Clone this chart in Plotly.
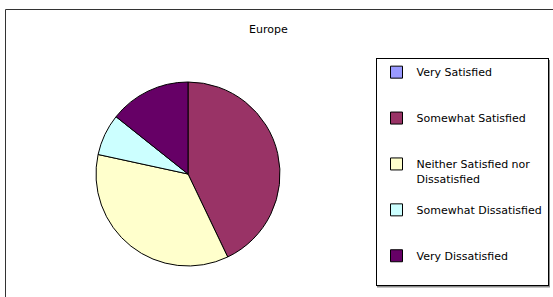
import plotly.graph_objects as go

categories = ["Very Satisfied", "Somewhat Satisfied", "Neither Satisfied nor Dissatisfied",
              "Somewhat Dissatisfied", "Very Dissatisfied"]
values = [0, 42.9, 35.5, 7.3, 14.3]
colors = ["#9999FF", "#993366", "#FFFFCC", "#CCFFFF", "#660066"]
title_text = "Europe"

W, H = 553, 297


def px(x):
    return x / W


def py(y):
    return 1 - y / H


def legend_label(name, last):
    # wrap long label as in the original legend, pad lines for even spacing
    if name == "Neither Satisfied nor Dissatisfied":
        lines = ["Neither Satisfied nor", "Dissatisfied"]
    else:
        lines = [name]
    n = 2 if last else 3
    while len(lines) < n:
        lines.append(" ")
    return "<br>".join(lines)


labels = [legend_label(c, i == len(categories) - 1) for i, c in enumerate(categories)]

fig = go.Figure(go.Pie(
    labels=labels,
    values=values,
    sort=False,
    direction="clockwise",
    rotation=0,
    marker=dict(colors=colors, line=dict(color="#000000", width=1)),
    textinfo="none",
    hovertext=categories,
    hoverinfo="text+percent",
    domain=dict(x=[px(96), px(280)], y=[py(266), py(82)]),
))

fig.update_layout(
    width=W, height=H,
    margin=dict(l=0, r=0, t=0, b=0),
    paper_bgcolor="white",
    font=dict(family="DejaVu Sans, Arial", size=11, color="#000000"),
    showlegend=True,
    legend=dict(
        x=px(375.5), y=py(57.5), xanchor="left", yanchor="top",
        bgcolor="white", bordercolor="#000000", borderwidth=1,
        valign="top", font=dict(size=11),
        traceorder="normal",
    ),
    annotations=[dict(
        text=title_text, xref="paper", yref="paper",
        x=px(268), y=py(29), xanchor="center", yanchor="middle",
        showarrow=False, font=dict(size=11),
    )],
    shapes=[
        dict(
            type="rect", xref="paper", yref="paper",
            x0=px(5.5), x1=1.05, y0=-0.05, y1=py(9.5),
            line=dict(color="#333333", width=1), fillcolor="rgba(0,0,0,0)",
        ),
        # legend drop shadow
        dict(
            type="rect", xref="paper", yref="paper",
            x0=px(377), x1=px(550), y0=py(287.5), y1=py(60),
            line=dict(width=0), fillcolor="#8c8c8c",
        ),
    ],
)

fig.write_html("out.html", config={"displayModeBar": False},
               post_script="document.body.style.margin='0';")
